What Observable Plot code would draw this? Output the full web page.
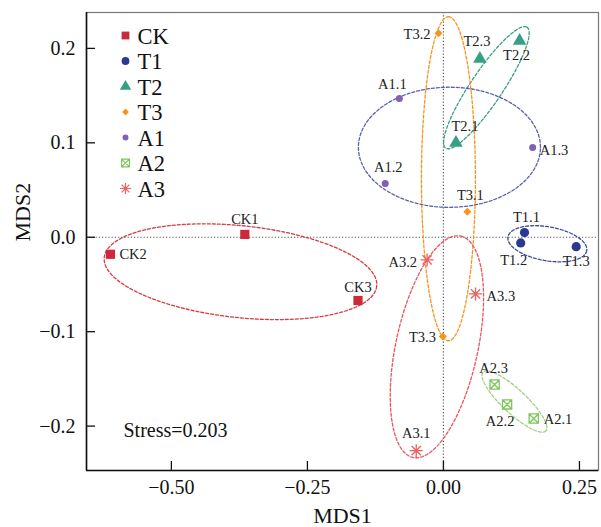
<!DOCTYPE html>
<html><head><meta charset="utf-8">
<script src="https://cdn.jsdelivr.net/npm/d3@7"></script>
<script src="https://cdn.jsdelivr.net/npm/@observablehq/plot@0.6"></script>
<style>body{margin:0;background:#fff}#chart{width:601px;height:527px}</style>
</head><body><div id="chart"></div>
<script>
// ---------- data ----------
const groups = ["CK","T1","T2","T3","A1","A2","A3"];
const sampleNames = ["CK1","CK2","CK3","T1.1","T1.2","T1.3","T2.1","T2.2","T2.3","T3.1","T3.2","T3.3","A1.1","A1.2","A1.3","A2.1","A2.2","A2.3","A3.1","A3.2","A3.3"];
const sampleGroup = ["CK","CK","CK","T1","T1","T1","T2","T2","T2","T3","T3","T3","A1","A1","A1","A2","A2","A2","A3","A3","A3"];
const mds1 = [-0.365,-0.612,-0.157, 0.149,0.142,0.244, 0.023,0.140,0.067, 0.044,-0.009,-0.001, -0.081,-0.107,0.164, 0.166,0.117,0.094, -0.050,-0.030,0.059];
const mds2 = [0.003,-0.018,-0.067, 0.005,-0.006,-0.010, 0.100,0.208,0.189, 0.027,0.216,-0.105, 0.147,0.057,0.095, -0.192,-0.177,-0.156, -0.226,-0.024,-0.060];
const xTicks = [-0.50,-0.25,0.00,0.25];
const yTicks = [-0.2,-0.1,0.0,0.1,0.2];
const xTitle = "MDS1", yTitle = "MDS2";
const stressText = "Stress=0.203";
// group ellipses: centre and two semi-axis vectors (data units)
const ellGroup = ["CK","T1","T2","T3","A1","A2","A3"];
const ellCx = [-0.373, 0.191, 0.079, 0.0092, 0.011, 0.1305, -0.012];
const ellCy = [-0.0365,-0.0069, 0.1584, 0.062, 0.0953,-0.174,-0.116];
const ellAx = [0.2504, 0.0724, 0.0748, 0.0, 0.1673, 0.0578, 0.0439];
const ellAy = [-0.0152,-0.0073, 0.0640, 0.1716, 0.0, -0.0311, 0.1172];
const ellBx = [-0.0088,-0.0054, 0.0244, 0.0496, 0.0, -0.0150, 0.0737];
const ellBy = [-0.0484,-0.0177,-0.0095, 0.0, 0.0636, -0.0093,-0.0092];

// ---------- styles ----------
const xDomain = [-0.656, 0.285], yDomain = [-0.247, 0.238];
const boxX = {draw(ctx, size){const h=Math.sqrt(size)/2;ctx.moveTo(-h,-h);ctx.lineTo(h,-h);ctx.lineTo(h,h);ctx.lineTo(-h,h);ctx.closePath();ctx.moveTo(-h,-h);ctx.lineTo(h,h);ctx.moveTo(h,-h);ctx.lineTo(-h,h);}};
const aster = {draw(ctx, size){const r=Math.sqrt(size/Math.PI);for(let k=0;k<4;k++){const a=k*Math.PI/4;ctx.moveTo(-r*Math.cos(a),-r*Math.sin(a));ctx.lineTo(r*Math.cos(a),r*Math.sin(a));}}};
const gStyle = {
  CK:{symbol:"square", color:"#cc2a3c", r:5.2, fill:true},
  T1:{symbol:"circle", color:"#2b3990", r:4.6, fill:true},
  T2:{symbol:"triangle", color:"#35a084", r:5.0, fill:true},
  T3:{symbol:"diamond2", color:"#f7941d", r:3.6, fill:true},
  A1:{symbol:"circle", color:"#8062b0", r:3.5, fill:true},
  A2:{symbol:boxX, color:"#7cc65a", r:5.2, fill:false},
  A3:{symbol:aster, color:"#ee6161", r:6.5, fill:false}
};
const ellColor = {CK:"#d63b45",T1:"#3a4aa0",T2:"#3a9e86",T3:"#f7941d",A1:"#5c5fb0",A2:"#9fd27f",A3:"#e8555c"};
const labelOff = {
  "CK1":[0,-15,"middle"],"CK2":[9,0,"start"],"CK3":[0,-13,"middle"],
  "T1.1":[2,-15,"middle"],"T1.2":[-7,17,"middle"],"T1.3":[0,15,"middle"],
  "T2.1":[9,-16,"middle"],"T2.2":[-3,15,"middle"],"T2.3":[-3,-17,"middle"],
  "T3.1":[3,-16,"middle"],"T3.2":[-8,1,"end"],"T3.3":[-7,1,"end"],
  "A1.1":[-7,-14,"middle"],"A1.2":[3,-16,"middle"],"A1.3":[7,3,"start"],
  "A2.1":[10,1,"start"],"A2.2":[-7,17,"middle"],"A2.3":[-1,-16,"middle"],
  "A3.1":[0,-17,"middle"],"A3.2":[-10,2,"end"],"A3.3":[11,2,"start"]
};

const samples = sampleNames.map((n,i)=>({name:n, group:sampleGroup[i], x:mds1[i], y:mds2[i]}));
const ellPts = [];
ellGroup.forEach((g,i)=>{
  for(let k=0;k<=120;k++){const t=2*Math.PI*k/120;
    ellPts.push({group:g, x:ellCx[i]+ellAx[i]*Math.cos(t)+ellBx[i]*Math.sin(t), y:ellCy[i]+ellAy[i]*Math.cos(t)+ellBy[i]*Math.sin(t)});}
});

const W=601,H=527,mL=86,mR=3,mT=12,mB=57;
const marks = [];
marks.push(Plot.ruleX([0],{stroke:"#555",strokeDasharray:"1.2,2",strokeWidth:1.2}));
marks.push(Plot.ruleY([0],{stroke:"#555",strokeDasharray:"1.2,2",strokeWidth:1.2}));
ellGroup.forEach(g=>{
  marks.push(Plot.line(ellPts.filter(d=>d.group===g),{x:"x",y:"y",stroke:ellColor[g],strokeWidth:1.3,strokeDasharray:"3,2",curve:"linear"}));
});
groups.forEach(g=>{
  const s=gStyle[g];
  const data=samples.filter(d=>d.group===g);
  marks.push(Plot.dot(data,{x:"x",y:"y",symbol:()=>s.symbol,r:s.r,
    fill:s.fill?s.color:"none",stroke:s.fill?"none":s.color,strokeWidth:1.3}));
});
samples.forEach(d=>{
  const o=labelOff[d.name];
  marks.push(Plot.text([d],{x:"x",y:"y",text:"name",dx:o[0],dy:o[1],textAnchor:o[2],fontSize:14.5,fill:"#222"}));
});
// legend inside the frame
groups.forEach((g,i)=>{
  const s=gStyle[g];
  marks.push(Plot.dot([g],{frameAnchor:"top-left",dx:39,dy:23+i*25.5,symbol:()=>s.symbol,r:s.r*0.85,
    fill:s.fill?s.color:"none",stroke:s.fill?"none":s.color,strokeWidth:1.2}));
  marks.push(Plot.text([g],{frameAnchor:"top-left",lineAnchor:"middle",dx:51,dy:24+i*25.5,text:d=>d,textAnchor:"start",fontSize:22.5,fill:"#111"}));
});
marks.push(Plot.text([stressText],{frameAnchor:"bottom-left",lineAnchor:"middle",dx:37,dy:-40,text:d=>d,textAnchor:"start",fontSize:20,fill:"#111"}));
// ticks inside
marks.push(Plot.tickX(xTicks,{x:d=>d,insetTop:H-mT-mB-9,stroke:"#111",strokeWidth:1.3}));
marks.push(Plot.tickY(yTicks,{y:d=>d,insetRight:W-mL-mR-9,stroke:"#111",strokeWidth:1.3}));
marks.push(Plot.axisX(xTicks,{tickSize:0,tickPadding:9,fontSize:20,label:null,tickFormat:d3.format(".2f")}));
marks.push(Plot.axisY(yTicks,{tickSize:0,tickPadding:11,fontSize:20,label:null,tickFormat:d3.format(".1f")}));
marks.push(Plot.text([xTitle],{frameAnchor:"bottom",lineAnchor:"middle",dy:45,text:d=>d,fontSize:22,fill:"#111"}));
marks.push(Plot.text([yTitle],{frameAnchor:"left",lineAnchor:"middle",dx:-64,rotate:-90,text:d=>d,fontSize:22,fill:"#111"}));
// frame
marks.push(Plot.frame({stroke:"#777",strokeWidth:1.2}));
marks.push(Plot.ruleX([xDomain[0]],{stroke:"#111",strokeWidth:1.6}));
marks.push(Plot.ruleY([yDomain[0]],{stroke:"#111",strokeWidth:1.6}));

const chart = Plot.plot({
  width:W,height:H,marginLeft:mL,marginRight:mR,marginTop:mT,marginBottom:mB,
  x:{domain:xDomain},
  y:{domain:yDomain},
  style:{fontFamily:"'Liberation Serif', 'Times New Roman', serif",background:"#fff",color:"#111",overflow:"visible"},
  marks
});
document.getElementById("chart").appendChild(chart);
</script></body></html>
